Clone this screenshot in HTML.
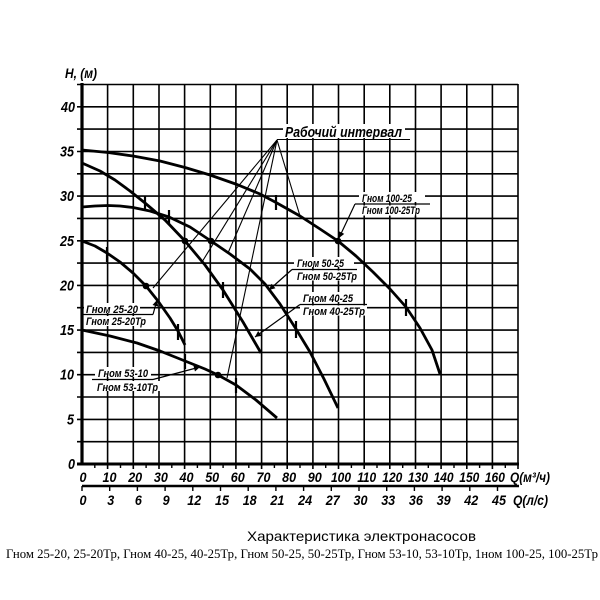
<!DOCTYPE html>
<html><head><meta charset="utf-8"><style>
html,body{margin:0;padding:0;background:#fff;}
svg{display:block;}
.b{font-family:"Liberation Sans",sans-serif;font-weight:bold;font-style:italic;fill:#000;}
</style></head><body>
<svg width="600" height="600" viewBox="0 0 600 600" xmlns="http://www.w3.org/2000/svg">
<defs>
<marker id="a" viewBox="0 0 10 10" refX="10" refY="5" markerWidth="10" markerHeight="6" markerUnits="userSpaceOnUse" orient="auto"><path d="M0,0L10,5L0,10z" fill="#000"/></marker>
</defs>
<rect width="600" height="600" fill="#fff"/>
<!-- grid -->
<g stroke="#000" stroke-width="1.6">
<line x1="77" y1="441.7" x2="518" y2="441.7"/><line x1="77" y1="419.4" x2="518" y2="419.4"/><line x1="77" y1="397" x2="518" y2="397"/><line x1="77" y1="374.7" x2="518" y2="374.7"/><line x1="77" y1="352.4" x2="518" y2="352.4"/><line x1="77" y1="330.1" x2="518" y2="330.1"/><line x1="77" y1="307.7" x2="518" y2="307.7"/><line x1="77" y1="285.4" x2="518" y2="285.4"/><line x1="77" y1="263.1" x2="518" y2="263.1"/><line x1="77" y1="240.8" x2="518" y2="240.8"/><line x1="77" y1="218.4" x2="518" y2="218.4"/><line x1="77" y1="196.1" x2="518" y2="196.1"/><line x1="77" y1="173.8" x2="518" y2="173.8"/><line x1="77" y1="151.5" x2="518" y2="151.5"/><line x1="77" y1="129.1" x2="518" y2="129.1"/><line x1="77" y1="106.8" x2="518" y2="106.8"/><line x1="77" y1="84.5" x2="518" y2="84.5"/>
<line x1="107.6" y1="84" x2="107.6" y2="469"/><line x1="133.3" y1="84" x2="133.3" y2="469"/><line x1="159" y1="84" x2="159" y2="469"/><line x1="184.6" y1="84" x2="184.6" y2="469"/><line x1="210.3" y1="84" x2="210.3" y2="469"/><line x1="235.9" y1="84" x2="235.9" y2="469"/><line x1="261.6" y1="84" x2="261.6" y2="469"/><line x1="287.2" y1="84" x2="287.2" y2="469"/><line x1="312.9" y1="84" x2="312.9" y2="469"/><line x1="338.5" y1="84" x2="338.5" y2="469"/><line x1="364.2" y1="84" x2="364.2" y2="469"/><line x1="389.8" y1="84" x2="389.8" y2="469"/><line x1="415.5" y1="84" x2="415.5" y2="469"/><line x1="441.1" y1="84" x2="441.1" y2="469"/><line x1="466.8" y1="84" x2="466.8" y2="469"/><line x1="492.4" y1="84" x2="492.4" y2="469"/><line x1="518" y1="84" x2="518" y2="469"/>
</g>
<!-- minor ticks bottom -->
<g stroke="#000" stroke-width="1.4">
<line x1="94.8" y1="464" x2="94.8" y2="468"/><line x1="120.5" y1="464" x2="120.5" y2="468"/><line x1="146.1" y1="464" x2="146.1" y2="468"/><line x1="171.8" y1="464" x2="171.8" y2="468"/><line x1="197.4" y1="464" x2="197.4" y2="468"/><line x1="223.1" y1="464" x2="223.1" y2="468"/><line x1="248.8" y1="464" x2="248.8" y2="468"/><line x1="274.4" y1="464" x2="274.4" y2="468"/><line x1="300" y1="464" x2="300" y2="468"/><line x1="325.7" y1="464" x2="325.7" y2="468"/><line x1="351.4" y1="464" x2="351.4" y2="468"/><line x1="377" y1="464" x2="377" y2="468"/><line x1="402.7" y1="464" x2="402.7" y2="468"/><line x1="428.3" y1="464" x2="428.3" y2="468"/><line x1="454" y1="464" x2="454" y2="468"/><line x1="479.6" y1="464" x2="479.6" y2="468"/><line x1="505.3" y1="464" x2="505.3" y2="468"/>
<line x1="82" y1="486" x2="82" y2="491"/><line x1="109.7" y1="486" x2="109.7" y2="491"/><line x1="137.4" y1="486" x2="137.4" y2="491"/><line x1="165.1" y1="486" x2="165.1" y2="491"/><line x1="192.8" y1="486" x2="192.8" y2="491"/><line x1="220.5" y1="486" x2="220.5" y2="491"/><line x1="248.2" y1="486" x2="248.2" y2="491"/><line x1="275.9" y1="486" x2="275.9" y2="491"/><line x1="303.6" y1="486" x2="303.6" y2="491"/><line x1="331.3" y1="486" x2="331.3" y2="491"/><line x1="359" y1="486" x2="359" y2="491"/><line x1="386.7" y1="486" x2="386.7" y2="491"/><line x1="414.4" y1="486" x2="414.4" y2="491"/><line x1="442.1" y1="486" x2="442.1" y2="491"/><line x1="469.8" y1="486" x2="469.8" y2="491"/><line x1="497.5" y1="486" x2="497.5" y2="491"/>
</g>
<!-- axes -->
<line x1="82" y1="83" x2="82" y2="465.5" stroke="#000" stroke-width="3.2"/>
<line x1="77" y1="464" x2="519" y2="464" stroke="#000" stroke-width="3"/>
<line x1="82" y1="486" x2="519" y2="486" stroke="#000" stroke-width="2.6"/>

<!-- y labels -->
<g class="b" font-size="15" text-anchor="end">
<text x="75" y="112" textLength="14" lengthAdjust="spacingAndGlyphs">40</text>
<text x="74" y="156.5" textLength="14" lengthAdjust="spacingAndGlyphs">35</text>
<text x="74" y="201" textLength="14" lengthAdjust="spacingAndGlyphs">30</text>
<text x="74" y="246" textLength="14" lengthAdjust="spacingAndGlyphs">25</text>
<text x="74" y="290.5" textLength="14" lengthAdjust="spacingAndGlyphs">20</text>
<text x="74" y="335" textLength="14" lengthAdjust="spacingAndGlyphs">15</text>
<text x="74" y="379.7" textLength="14" lengthAdjust="spacingAndGlyphs">10</text>
<text x="74" y="424.4" textLength="7" lengthAdjust="spacingAndGlyphs">5</text>
<text x="75" y="469" textLength="7" lengthAdjust="spacingAndGlyphs">0</text>
</g>
<text class="b" x="65" y="78" font-size="14" textLength="32" lengthAdjust="spacingAndGlyphs">H, (м)</text>

<!-- x labels m3/h -->
<g class="b" font-size="14" text-anchor="middle">
<text x="83" y="482" textLength="7" lengthAdjust="spacingAndGlyphs">0</text>
<text x="109.5" y="482" textLength="14" lengthAdjust="spacingAndGlyphs">10</text>
<text x="135.2" y="482" textLength="14" lengthAdjust="spacingAndGlyphs">20</text>
<text x="160.9" y="482" textLength="14" lengthAdjust="spacingAndGlyphs">30</text>
<text x="186.5" y="482" textLength="14" lengthAdjust="spacingAndGlyphs">40</text>
<text x="212.2" y="482" textLength="14" lengthAdjust="spacingAndGlyphs">50</text>
<text x="237.8" y="482" textLength="14" lengthAdjust="spacingAndGlyphs">60</text>
<text x="263.5" y="482" textLength="14" lengthAdjust="spacingAndGlyphs">70</text>
<text x="289.1" y="482" textLength="14" lengthAdjust="spacingAndGlyphs">80</text>
<text x="314.8" y="482" textLength="14" lengthAdjust="spacingAndGlyphs">90</text>
<text x="341" y="482" textLength="20" lengthAdjust="spacingAndGlyphs">100</text>
<text x="366.7" y="482" textLength="19" lengthAdjust="spacingAndGlyphs">110</text>
<text x="392.3" y="482" textLength="20" lengthAdjust="spacingAndGlyphs">120</text>
<text x="418" y="482" textLength="20" lengthAdjust="spacingAndGlyphs">130</text>
<text x="443.6" y="482" textLength="20" lengthAdjust="spacingAndGlyphs">140</text>
<text x="469.3" y="482" textLength="20" lengthAdjust="spacingAndGlyphs">150</text>
<text x="494.9" y="482" textLength="20" lengthAdjust="spacingAndGlyphs">160</text>
</g>
<text class="b" x="510" y="482" font-size="14" textLength="40" lengthAdjust="spacingAndGlyphs">Q(м³/ч)</text>
<!-- x labels l/s -->
<g class="b" font-size="14" text-anchor="middle">
<text x="83" y="505" textLength="7" lengthAdjust="spacingAndGlyphs">0</text>
<text x="110.7" y="505" textLength="7" lengthAdjust="spacingAndGlyphs">3</text>
<text x="138.4" y="505" textLength="7" lengthAdjust="spacingAndGlyphs">6</text>
<text x="166.1" y="505" textLength="7" lengthAdjust="spacingAndGlyphs">9</text>
<text x="194.3" y="505" textLength="14" lengthAdjust="spacingAndGlyphs">12</text>
<text x="222" y="505" textLength="14" lengthAdjust="spacingAndGlyphs">15</text>
<text x="249.7" y="505" textLength="14" lengthAdjust="spacingAndGlyphs">18</text>
<text x="277.4" y="505" textLength="14" lengthAdjust="spacingAndGlyphs">21</text>
<text x="305.1" y="505" textLength="14" lengthAdjust="spacingAndGlyphs">24</text>
<text x="332.8" y="505" textLength="14" lengthAdjust="spacingAndGlyphs">27</text>
<text x="360.5" y="505" textLength="14" lengthAdjust="spacingAndGlyphs">30</text>
<text x="388.2" y="505" textLength="14" lengthAdjust="spacingAndGlyphs">33</text>
<text x="415.9" y="505" textLength="14" lengthAdjust="spacingAndGlyphs">36</text>
<text x="443.6" y="505" textLength="14" lengthAdjust="spacingAndGlyphs">39</text>
<text x="471.3" y="505" textLength="14" lengthAdjust="spacingAndGlyphs">42</text>
<text x="499" y="505" textLength="14" lengthAdjust="spacingAndGlyphs">45</text>
</g>
<text class="b" x="513" y="505" font-size="14" textLength="35" lengthAdjust="spacingAndGlyphs">Q(л/с)</text>

<!-- working interval leader lines -->
<g stroke="#000" stroke-width="1.1" fill="none">
<line x1="277" y1="140" x2="153" y2="288"/>
<line x1="277" y1="140" x2="202" y2="262"/>
<line x1="277" y1="140" x2="228" y2="253"/>
<line x1="277" y1="140" x2="227" y2="378"/>
<line x1="277" y1="140" x2="300" y2="216"/>
<line x1="277" y1="139.5" x2="410" y2="139.5"/>
</g>
<rect x="283" y="124" width="122" height="14" fill="#fff"/>
<text class="b" x="285" y="137" font-size="15" textLength="117" lengthAdjust="spacingAndGlyphs">Рабочий интервал</text>

<!-- curves -->
<g stroke="#000" stroke-width="2.8" fill="none" stroke-linejoin="round" stroke-linecap="butt">
<polyline points="82,150 108,152.5 133,156 160,161 185,167.5 210,175 237,184.5 260,194 276,202.5 300,216 320,229 338,241 356,256 373,272 390,289 406,307 420,328 432,350 440,374"/>
<polyline points="82,163 100,171 115,180 130,191 145,203 165,220 185,241 205,265 223,290 243,322 261,353"/>
<polyline points="82,207 95,206 108,205.5 120,206 133,207.5 150,211 169,217 190,227 211,241 230,254 250,269 265,284 280,304 296,329 310,352 324,379 338,408"/>
<polyline points="82,241 95,246 107,253 120,262 133,273 146,286 158,301 170,318 178,331 185,345"/>
<polyline points="82,330 110,336 137,343 160,351 185,361 205,369 218,375 236,385 256,400 277,418"/>
</g>
<!-- ticks on curves -->
<g stroke="#000" stroke-width="2.2">
<line x1="276" y1="195" x2="276" y2="210"/>
<line x1="406" y1="299" x2="406" y2="316"/>
<line x1="145" y1="196" x2="145" y2="211"/>
<line x1="223" y1="282" x2="223" y2="298"/>
<line x1="169" y1="210" x2="169" y2="225"/>
<line x1="296" y1="321" x2="296" y2="338"/>
<line x1="107" y1="247" x2="107" y2="262"/>
<line x1="178" y1="324" x2="178" y2="340"/>
<line x1="185" y1="354" x2="185" y2="369"/>
<line x1="236" y1="378" x2="236" y2="393"/>
</g>
<!-- dots -->
<g fill="#000">
<circle cx="146" cy="286" r="3.3"/>
<circle cx="185" cy="241" r="3.3"/>
<circle cx="211" cy="241" r="3.3"/>
<circle cx="218" cy="375" r="3.3"/>
<circle cx="338" cy="241" r="3.3"/>
</g>

<!-- series labels -->
<g fill="#fff">
<rect x="359" y="192" width="66" height="10"/><rect x="359" y="205.5" width="66" height="10"/>
<rect x="294" y="257" width="60" height="10"/><rect x="294" y="270.5" width="66" height="10"/>
<rect x="300" y="292" width="60" height="10"/><rect x="300" y="305.5" width="67" height="10"/>
<rect x="84" y="303" width="56" height="10"/><rect x="84" y="316" width="66" height="10"/>
<rect x="95" y="367" width="56" height="10"/><rect x="95" y="381" width="66" height="10"/>
</g>
<g stroke="#000" stroke-width="1.2" fill="none">
<line x1="355" y1="204" x2="430" y2="204"/>
<line x1="355" y1="204" x2="339" y2="238" marker-end="url(#a)"/>
<line x1="292" y1="269.5" x2="357" y2="269.5"/>
<line x1="292" y1="269.5" x2="269" y2="290" marker-end="url(#a)"/>
<line x1="300" y1="304.5" x2="367" y2="304.5"/>
<line x1="300" y1="304.5" x2="255" y2="337" marker-end="url(#a)"/>
<line x1="82" y1="314.5" x2="153" y2="314.5"/>
<line x1="153" y1="314.5" x2="157" y2="300" marker-end="url(#a)"/>
<line x1="92" y1="379.5" x2="153" y2="379.5"/>
<line x1="153" y1="379.5" x2="200" y2="367" marker-end="url(#a)"/>
</g>
<g class="b" font-size="11">
<text x="362" y="202" textLength="50" lengthAdjust="spacingAndGlyphs">Гном 100-25</text>
<text x="362" y="214" textLength="58" lengthAdjust="spacingAndGlyphs">Гном 100-25Тр</text>
<text x="297" y="267" textLength="47" lengthAdjust="spacingAndGlyphs">Гном 50-25</text>
<text x="297" y="280" textLength="60" lengthAdjust="spacingAndGlyphs">Гном 50-25Тр</text>
<text x="303" y="302" textLength="50" lengthAdjust="spacingAndGlyphs">Гном 40-25</text>
<text x="303" y="315" textLength="62" lengthAdjust="spacingAndGlyphs">Гном 40-25Тр</text>
<text x="86" y="313" textLength="52" lengthAdjust="spacingAndGlyphs">Гном 25-20</text>
<text x="86" y="325" textLength="60" lengthAdjust="spacingAndGlyphs">Гном 25-20Тр</text>
<text x="98" y="377" textLength="50" lengthAdjust="spacingAndGlyphs">Гном 53-10</text>
<text x="97" y="391" textLength="61" lengthAdjust="spacingAndGlyphs">Гном 53-10Тр</text>
</g>

<!-- captions -->
<text x="247" y="541" font-family="Liberation Sans, sans-serif" font-size="14" fill="#000" textLength="229" lengthAdjust="spacingAndGlyphs">Характеристика электронасосов</text>
<text x="6" y="558" font-family="Liberation Serif, serif" font-size="12.5" fill="#000" textLength="592" lengthAdjust="spacingAndGlyphs">Гном 25-20, 25-20Тр, Гном 40-25, 40-25Тр, Гном 50-25, 50-25Тр, Гном 53-10, 53-10Тр, 1ном 100-25, 100-25Тр</text>
</svg>
</body></html>
